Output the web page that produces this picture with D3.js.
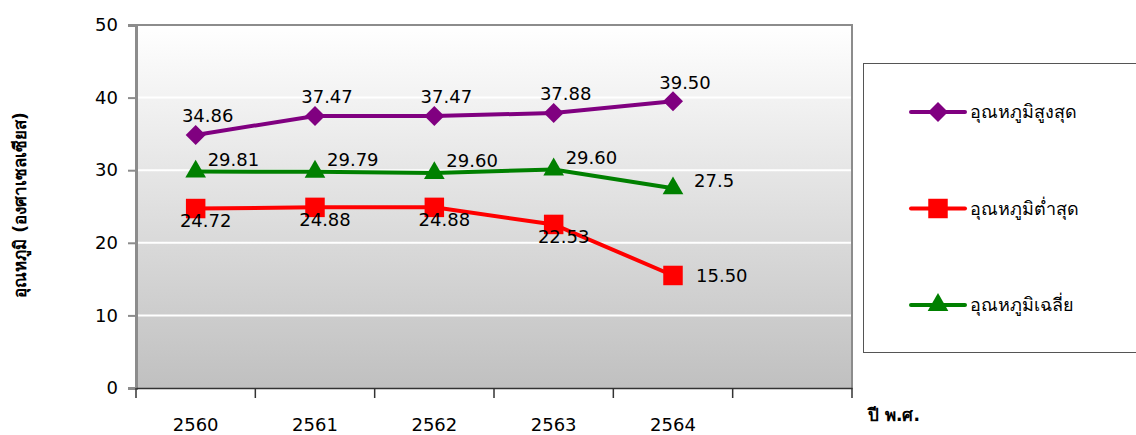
<!DOCTYPE html>
<html>
<head>
<meta charset="utf-8">
<script src="https://cdn.jsdelivr.net/npm/d3@7"></script>
<style>
  body { margin: 0; background: #fff; }
  text { font-family: "DejaVu Sans", Tahoma, sans-serif; }
</style>
</head>
<body>
<script>
// data
var years = ['2560', '2561', '2562', '2563', '2564', ''];
var maxTemp = [34.86, 37.47, 37.47, 37.88, 39.50];
var minTemp = [24.72, 24.88, 24.88, 22.53, 15.50];
var avgTemp = [29.81, 29.79, 29.60, 30.10, 27.50];
var maxLabels = ['34.86', '37.47', '37.47', '37.88', '39.50'];
var minLabels = ['24.72', '24.88', '24.88', '22.53', '15.50'];
var avgLabels = ['29.81', '29.79', '29.60', '29.60', '27.5'];
var minLabelPos = ['below', 'below', 'below', 'below', 'right'];
var avgLabelPos = ['above', 'above', 'above', 'above', 'right'];
var yTicks = [0, 10, 20, 30, 40, 50];

var svgWidth = 1136, svgHeight = 435;
var margin = {top: 25, left: 136, bottom: 47, right: 284};
var width = svgWidth - margin.left - margin.right,
    height = svgHeight - margin.top - margin.bottom;

var svg = d3.select('body').append('svg')
  .attr('width', svgWidth)
  .attr('height', svgHeight)

var defs = svg.append('defs')
var grad = defs.append('linearGradient')
  .attr('id', 'bg')
  .attr('x1', 0).attr('y1', 0).attr('x2', 0).attr('y2', 1)
grad.append('stop').attr('offset', '0%').attr('stop-color', '#ffffff')
grad.append('stop').attr('offset', '100%').attr('stop-color', '#c0c0c0')

var g = svg.append('g')
  .attr('transform', `translate(${margin.left},${margin.top})`)

var xScale = d3.scaleBand().domain(years.map((d, i) => i)).range([0, width])
var yScale = d3.scaleLinear().domain([0, 50]).range([height, 0])
var cx = i => xScale(i) + xScale.bandwidth() / 2

g.append('rect')
  .attr('width', width)
  .attr('height', height)
  .attr('fill', 'url(#bg)')

g.selectAll('.grid').data(yTicks.filter(d => d > 0 && d < 50)).enter()
  .append('line')
  .attr('x1', 0).attr('x2', width)
  .attr('y1', d => yScale(d)).attr('y2', d => yScale(d))
  .attr('stroke', '#fff')
  .attr('stroke-width', 2)

// frame top + right
g.append('path')
  .attr('d', `M0,${yScale(50)}H${width}V${height}`)
  .attr('fill', 'none')
  .attr('stroke', '#8c8c8c')
  .attr('stroke-width', 2)

// y axis
var yAxis = d3.axisLeft(yScale).tickValues(yTicks).tickSize(8).tickPadding(10)
var ya = g.append('g').call(yAxis)
ya.select('.domain').attr('stroke', '#8c8c8c').attr('stroke-width', 3)
ya.selectAll('.tick line').attr('stroke', '#8c8c8c').attr('stroke-width', 2)
ya.selectAll('.tick text').attr('font-size', 18).attr('fill', '#000')
  .attr('font-family', '"DejaVu Sans", Tahoma, sans-serif')

// x axis
var xAxis = d3.axisBottom(xScale).tickFormat(i => years[i]).tickSize(0).tickPadding(30)
var xa = g.append('g').attr('transform', `translate(0,${height})`).call(xAxis)
xa.select('.domain').attr('stroke', '#333').attr('stroke-width', 1.5)
xa.selectAll('.tick text').attr('font-size', 18).attr('fill', '#000')
  .attr('font-family', '"DejaVu Sans", Tahoma, sans-serif')
g.selectAll('.xtick').data(d3.range(years.length + 1)).enter()
  .append('line')
  .attr('x1', i => i * xScale.bandwidth()).attr('x2', i => i * xScale.bandwidth())
  .attr('y1', height).attr('y2', height + 10)
  .attr('stroke', '#333')
  .attr('stroke-width', 1.5)

svg.append('text')
  .attr('x', 868).attr('y', 421)
  .attr('font-size', 17).attr('font-weight', 'bold')
  .text('ปี พ.ศ.')

svg.append('text')
  .attr('transform', 'translate(26,205) rotate(-90)')
  .attr('text-anchor', 'middle')
  .attr('font-size', 17).attr('font-weight', 'bold')
  .text('อุณหภูมิ (องศาเซลเซียส)')

var series = [
  {name: 'อุณหภูมิสูงสุด', values: maxTemp, color: '#800080', shape: d3.symbolSquare, size: 200, rot: 45, labels: maxLabels},
  {name: 'อุณหภูมิต่ำสุด', values: minTemp, color: '#ff0000', shape: d3.symbolSquare, size: 380, rot: 0, labels: minLabels},
  {name: 'อุณหภูมิเฉลี่ย', values: avgTemp, color: '#008000', shape: d3.symbolTriangle, size: 185, rot: 0, labels: avgLabels}
]

var line = d3.line().x((d, i) => cx(i)).y(d => yScale(d))

// draw avg then min then max
var order = [2, 1, 0]
order.forEach(function(k) {
  var s = series[k]
  g.append('path')
    .attr('d', line(s.values))
    .attr('fill', 'none')
    .attr('stroke', s.color)
    .attr('stroke-width', 4)
  g.selectAll('.m' + k).data(s.values).enter()
    .append('path')
    .attr('d', d3.symbol().type(s.shape).size(s.size))
    .attr('transform', (d, i) => `translate(${cx(i)},${yScale(d)}) rotate(${s.rot})`)
    .attr('fill', s.color)
})

// data labels
g.selectAll('.lmax').data(maxTemp).enter().append('text')
  .attr('x', (d, i) => cx(i) + 12)
  .attr('y', (d, i) => yScale(d) - 19)
  .attr('dy', '0.35em')
  .attr('text-anchor', 'middle')
  .attr('font-size', 18)
  .text((d, i) => maxLabels[i])

g.selectAll('.lmin').data(minTemp).enter().append('text')
  .attr('x', (d, i) => minLabelPos[i] == 'right' ? cx(i) + 23 : cx(i) + 10)
  .attr('y', (d, i) => minLabelPos[i] == 'right' ? yScale(d) : yScale(d) + 12)
  .attr('dy', '0.35em')
  .attr('text-anchor', (d, i) => minLabelPos[i] == 'right' ? 'start' : 'middle')
  .attr('font-size', 18)
  .text((d, i) => minLabels[i])

g.selectAll('.lavg').data(avgTemp).enter().append('text')
  .attr('x', (d, i) => avgLabelPos[i] == 'right' ? cx(i) + 21 : cx(i) + 12)
  .attr('y', (d, i) => avgLabelPos[i] == 'right' ? yScale(d) - 8 : yScale(d) - 12)
  .attr('dy', '0.35em')
  .attr('text-anchor', 'start')
  .attr('font-size', 18)
  .text((d, i) => avgLabels[i])

// legend
var legend = svg.append('g').attr('transform', 'translate(863,63)')
legend.append('rect')
  .attr('x', 0.5).attr('y', 0.5)
  .attr('width', 300).attr('height', 289)
  .attr('fill', '#fff')
  .attr('stroke', '#555')
  .attr('stroke-width', 1)

var legY = d3.scalePoint().domain([0, 1, 2]).range([49, 242])
var items = legend.selectAll('.leg').data(series).enter().append('g')
  .attr('transform', (d, i) => `translate(0,${legY(i)})`)
items.append('line')
  .attr('x1', 48).attr('x2', 102)
  .attr('stroke', d => d.color)
  .attr('stroke-width', 4)
  .attr('stroke-linecap', 'round')
items.append('path')
  .attr('d', d => d3.symbol().type(d.shape).size(d.size)())
  .attr('transform', d => `translate(75,0) rotate(${d.rot})`)
  .attr('fill', d => d.color)
items.append('text')
  .attr('x', 107)
  .attr('dy', '0.35em')
  .attr('font-size', 18)
  .text(d => d.name)
</script>
</body>
</html>
